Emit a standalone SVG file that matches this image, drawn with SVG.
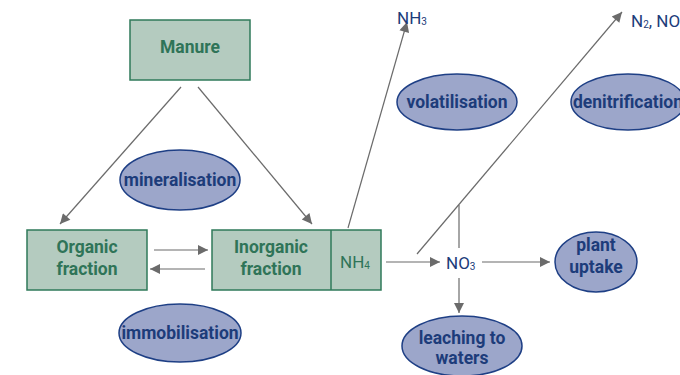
<svg xmlns="http://www.w3.org/2000/svg" width="680" height="375" viewBox="0 0 680 375">
<style>
.box{fill:#b4cbbf;stroke:#2f7a5a;stroke-width:1.5}
.ell{fill:#9ca6ca;stroke:#1e3f85;stroke-width:1.5}
.gt{font-family:Roboto,"Noto Sans",sans-serif;font-weight:700;font-size:17.5px;fill:#2f7458;text-anchor:middle}
.bt{font-family:Roboto,"Noto Sans",sans-serif;font-weight:700;font-size:17.5px;fill:#1d3c7a;text-anchor:middle}
.rt{font-family:Roboto,"Noto Sans",sans-serif;font-weight:400;font-size:17px;fill:#1d3c7a}
.ln{stroke:#6b6b6b;stroke-width:1.2;fill:none}
</style>
<defs>
<marker id="ah" viewBox="0 0 10 10" refX="10" refY="5" markerWidth="12" markerHeight="10" markerUnits="userSpaceOnUse" orient="auto">
<path d="M0,0 L10,5 L0,10 z" fill="#6b6b6b"/>
</marker>
</defs>
<g id="connectors">
<line class="ln" x1="181" y1="87" x2="60" y2="224" marker-end="url(#ah)"/>
<line class="ln" x1="198" y1="87" x2="312" y2="224" marker-end="url(#ah)"/>
<line class="ln" x1="154" y1="250" x2="208" y2="250" marker-end="url(#ah)"/>
<line class="ln" x1="205" y1="269" x2="150" y2="269" marker-end="url(#ah)"/>
<line class="ln" x1="348" y1="228" x2="407" y2="22" marker-end="url(#ah)"/>
<line class="ln" x1="386" y1="262" x2="440" y2="262" marker-end="url(#ah)"/>
<line class="ln" x1="417" y1="254" x2="622" y2="12" marker-end="url(#ah)"/>
<line class="ln" x1="459" y1="205" x2="459" y2="248"/>
<line class="ln" x1="482" y1="262" x2="550" y2="262" marker-end="url(#ah)"/>
<line class="ln" x1="459" y1="278" x2="459" y2="313" marker-end="url(#ah)"/>
</g>
<g id="manure">
<rect class="box" x="130" y="20" width="120" height="60"/>
<text class="gt" x="190" y="53">Manure</text>
</g>
<g id="organic">
<rect class="box" x="27" y="230" width="120" height="60"/>
<text class="gt" x="87" y="253">Organic</text>
<text class="gt" x="87" y="275">fraction</text>
</g>
<g id="inorganic">
<rect class="box" x="212" y="230" width="169" height="60"/>
<line x1="331" y1="230" x2="331" y2="290" stroke="#2f7a5a" stroke-width="1.5"/>
<text class="gt" x="271" y="253">Inorganic</text>
<text class="gt" x="271" y="275">fraction</text>
<text x="340" y="268" font-family="Roboto,Noto Sans,sans-serif" font-size="17" fill="#2f7458">NH<tspan font-size="10" dy="1">4</tspan></text>
</g>
<g id="mineralisation">
<ellipse class="ell" cx="180" cy="180" rx="60" ry="30"/>
<text class="bt" x="180" y="186">mineralisation</text>
</g>
<g id="immobilisation">
<ellipse class="ell" cx="180" cy="333" rx="61" ry="29"/>
<text class="bt" x="180" y="339">immobilisation</text>
</g>
<g id="volatilisation">
<ellipse class="ell" cx="457" cy="102" rx="60" ry="28"/>
<text class="bt" x="457" y="108">volatilisation</text>
</g>
<g id="denitrification">
<ellipse class="ell" cx="628" cy="102" rx="57" ry="28"/>
<text class="bt" x="628" y="108">denitrification</text>
</g>
<g id="plant">
<ellipse class="ell" cx="596" cy="262" rx="41" ry="30"/>
<text class="bt" x="596" y="251">plant</text>
<text class="bt" x="596" y="273">uptake</text>
</g>
<g id="leaching">
<ellipse class="ell" cx="462" cy="346" rx="60" ry="30"/>
<text class="bt" x="462" y="344">leaching to</text>
<text class="bt" x="462" y="364">waters</text>
</g>
<g id="nh3">
<text class="rt" x="397" y="24">NH<tspan font-size="10" dy="1">3</tspan></text>
</g>
<g id="no3">
<text class="rt" x="446" y="269">NO<tspan font-size="10" dy="1">3</tspan></text>
</g>
<g id="n2">
<text class="rt" x="631" y="27">N<tspan font-size="10" dy="1">2</tspan><tspan dy="-1">, NO</tspan></text>
</g>
</svg>
